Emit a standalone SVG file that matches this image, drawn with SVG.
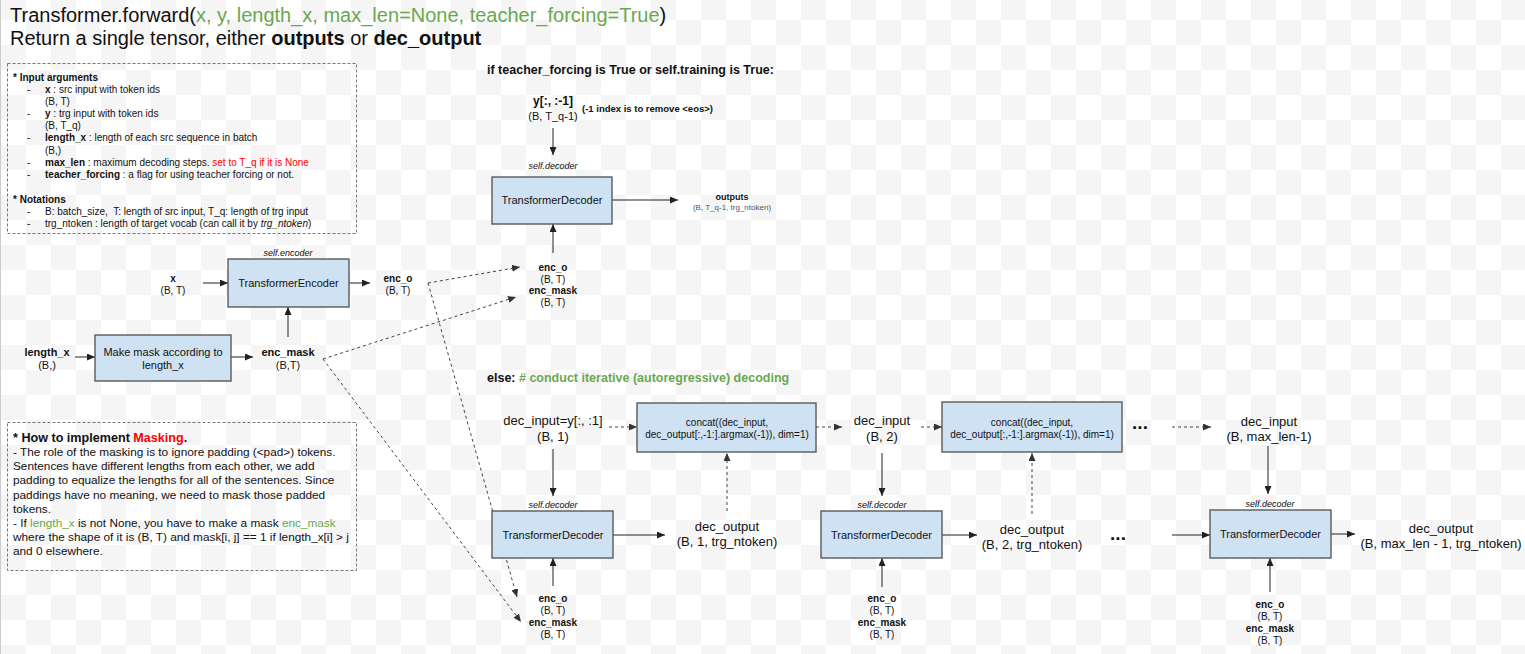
<svg xmlns="http://www.w3.org/2000/svg" width="1525" height="654" viewBox="0 0 1525 654">
<style>
text{font-family:"Liberation Sans",Arial,sans-serif;fill:#111;}
.b{font-weight:bold;}
.i{font-style:italic;}
.g{fill:#6aa84f;}
.r{fill:#ff0000;}
.node{fill:#cfe2f3;stroke:#5b5b5b;stroke-width:1.4;}
.note{fill:none;stroke:#777;stroke-width:1;stroke-dasharray:3,2;}
.ln{stroke:#222;stroke-width:1;fill:none;}
.dl{stroke:#444;stroke-width:1;fill:none;stroke-dasharray:3,3;}
.c{text-anchor:middle;}
.s9{font-size:10px;}
.s10{font-size:10px;}
.s11{font-size:11px;}
.s12{font-size:11.8px;}
.s13{font-size:13px;}
.sd{font-size:9px;font-style:italic;}
</style>
<defs>
<pattern id="chk" x="1" y="20" width="50" height="50" patternUnits="userSpaceOnUse">
<rect width="50" height="50" fill="#ffffff"/>
<rect x="25" y="0" width="25" height="25" fill="#f5f5f5"/>
<rect x="0" y="25" width="25" height="25" fill="#f5f5f5"/>
</pattern>
<marker id="ah" markerUnits="userSpaceOnUse" markerWidth="9" markerHeight="7" refX="8" refY="3.5" orient="auto">
<path d="M0,0 L8,3.5 L0,7 z" fill="#222"/>
</marker>
<marker id="ahd" markerUnits="userSpaceOnUse" markerWidth="9" markerHeight="7" refX="8" refY="3.5" orient="auto">
<path d="M0,0 L8,3.5 L0,7 z" fill="#333"/>
</marker>
</defs>
<rect width="1525" height="654" fill="url(#chk)"/>
<line x1="0.5" y1="0" x2="0.5" y2="654" stroke="#cccccc" stroke-width="1"/>

<g id="title">
<text x="10" y="22" font-size="20">Transformer.forward(<tspan class="g">x, y, length_x, max_len=None, teacher_forcing=True</tspan>)</text>
<text x="10" y="45" font-size="20">Return a single tensor, either <tspan class="b">outputs</tspan> or <tspan class="b">dec_output</tspan></text>
</g>

<g id="input-args-note">
<rect class="note" x="7.5" y="63.5" width="349" height="170"/>
<g class="s9">
<text x="13" y="80.5" class="b">* Input arguments</text>
<text x="27" y="92.5">-</text><text x="45" y="92.5"><tspan class="b">x</tspan> : src input with token ids</text>
<text x="45" y="104.5">(B, T)</text>
<text x="27" y="116.5">-</text><text x="45" y="116.5"><tspan class="b">y</tspan> : trg input with token ids</text>
<text x="45" y="129">(B, T_q)</text>
<text x="27" y="141">-</text><text x="45" y="141"><tspan class="b">length_x</tspan> : length of each src sequence in batch</text>
<text x="45" y="153.5">(B,)</text>
<text x="27" y="165.5">-</text><text x="45" y="165.5"><tspan class="b">max_len</tspan> : maximum decoding steps. <tspan class="r">set to T_q if it is None</tspan></text>
<text x="27" y="178">-</text><text x="45" y="178"><tspan class="b">teacher_forcing</tspan> : a flag for using teacher forcing or not.</text>
<text x="13" y="202.5" class="b">* Notations</text>
<text x="27" y="214.5">-</text><text x="45" y="214.5">B: batch_size,&#160; T: length of src input, T_q: length of trg input</text>
<text x="27" y="227">-</text><text x="45" y="227">trg_ntoken : length of target vocab (can call it by <tspan class="i">trg_ntoken</tspan>)</text>
</g>
</g>

<g id="masking-note">
<rect class="note" x="7.5" y="422.5" width="349" height="148"/>
<text x="13" y="441.5" class="b" font-size="12.6">* How to implement <tspan class="r">Masking</tspan>.</text>
<g class="s12">
<text x="13" y="455.5">- The role of the masking is to ignore padding (&lt;pad&gt;) tokens.</text>
<text x="13" y="469.5">Sentences have different lengths from each other, we add</text>
<text x="13" y="484">padding to equalize the lengths for all of the sentences. Since</text>
<text x="13" y="498.5">paddings have no meaning, we need to mask those padded</text>
<text x="13" y="512.5">tokens.</text>
<text x="13" y="526.5">- If <tspan class="g">length_x</tspan> is not None, you have to make a mask <tspan class="g">enc_mask</tspan></text>
<text x="13" y="540.5">where the shape of it is (B, T) and mask[i, j] == 1 if length_x[i] &gt; j</text>
<text x="13" y="554.5">and 0 elsewhere.</text>
</g>
</g>

<g id="connectors">
<line class="ln" x1="203" y1="283" x2="228" y2="283" marker-end="url(#ah)"/>
<line class="ln" x1="349" y1="283" x2="370" y2="283" marker-end="url(#ah)"/>
<line class="ln" x1="75" y1="357" x2="95" y2="357" marker-end="url(#ah)"/>
<line class="ln" x1="231" y1="357" x2="253" y2="357" marker-end="url(#ah)"/>
<line class="ln" x1="288" y1="337" x2="288" y2="307" marker-end="url(#ah)"/>
<line class="ln" x1="553" y1="128" x2="553" y2="155" marker-end="url(#ah)"/>
<line class="ln" x1="612" y1="200" x2="678" y2="200" marker-end="url(#ah)"/>
<line class="ln" x1="553" y1="253" x2="553" y2="224" marker-end="url(#ah)"/>
<line class="ln" x1="553" y1="449" x2="553" y2="496" marker-end="url(#ah)"/>
<line class="ln" x1="613" y1="535" x2="665" y2="535" marker-end="url(#ah)"/>
<line class="ln" x1="553" y1="586" x2="553" y2="558" marker-end="url(#ah)"/>
<line class="ln" x1="882" y1="453" x2="882" y2="496" marker-end="url(#ah)"/>
<line class="ln" x1="942" y1="535" x2="977" y2="535" marker-end="url(#ah)"/>
<line class="ln" x1="882" y1="587" x2="882" y2="558" marker-end="url(#ah)"/>
<line class="ln" x1="1172" y1="535" x2="1210" y2="535" marker-end="url(#ah)"/>
<line class="ln" x1="1268" y1="446" x2="1268" y2="494" marker-end="url(#ah)"/>
<line class="ln" x1="1331" y1="534" x2="1355" y2="534" marker-end="url(#ah)"/>
<line class="ln" x1="1270" y1="592" x2="1270" y2="558" marker-end="url(#ah)"/>
<line class="dl" x1="609" y1="427" x2="637" y2="427" marker-end="url(#ahd)"/>
<line class="dl" x1="816" y1="427" x2="842" y2="427" marker-end="url(#ahd)"/>
<line class="dl" x1="727" y1="511" x2="727" y2="453" marker-end="url(#ahd)"/>
<line class="dl" x1="921" y1="427" x2="942" y2="427" marker-end="url(#ahd)"/>
<line class="dl" x1="1172" y1="427" x2="1211" y2="427" marker-end="url(#ahd)"/>
<line class="dl" x1="1032" y1="514" x2="1032" y2="453" marker-end="url(#ahd)"/>
<line class="dl" x1="428" y1="283" x2="520" y2="267" marker-end="url(#ahd)"/>
<line class="dl" x1="323" y1="359" x2="516" y2="297" marker-end="url(#ahd)"/>
<line class="dl" x1="428" y1="283" x2="517" y2="597" marker-end="url(#ahd)"/>
<line class="dl" x1="323" y1="359" x2="521" y2="622" marker-end="url(#ahd)"/>
</g>

<g id="label-x">
<text x="173" y="281.5" class="b s10 c">x</text>
<text x="173" y="293.5" class="s10 c">(B, T)</text>
</g>
<g id="encoder">
<text x="288" y="256" class="sd c">self.encoder</text>
<rect class="node" x="228" y="259" width="121" height="48"/>
<text x="288.5" y="287" class="s11 c">TransformerEncoder</text>
</g>
<g id="label-enc-o">
<text x="398" y="281.5" class="b s10 c">enc_o</text>
<text x="398" y="293.5" class="s10 c">(B, T)</text>
</g>
<g id="label-length-x">
<text x="47" y="356" class="b s11 c">length_x</text>
<text x="47" y="369" class="s11 c">(B,)</text>
</g>
<g id="make-mask">
<rect class="node" x="95" y="335" width="136" height="46"/>
<text x="163" y="356" class="s11 c">Make mask according to</text>
<text x="163" y="369" class="s11 c">length_x</text>
</g>
<g id="label-enc-mask">
<text x="288" y="356" class="b s11 c">enc_mask</text>
<text x="288" y="369" class="s11 c">(B,T)</text>
</g>

<g id="tf-heading">
<text x="487" y="73.5" class="b" font-size="12.5">if teacher_forcing is True or self.training is True:</text>
</g>
<g id="label-y">
<text x="553" y="105" class="b c" font-size="12">y[:, :-1]</text>
<text x="553" y="119.5" class="s11 c">(B, T_q-1)</text>
<text x="582" y="111.5" class="b" font-size="9.5">(-1 index is to remove &lt;eos&gt;)</text>
</g>
<g id="decoder-tf">
<text x="553" y="169" class="sd c">self.decoder</text>
<rect class="node" x="492" y="177" width="120" height="47"/>
<text x="552" y="204" class="s11 c">TransformerDecoder</text>
</g>
<g id="label-outputs">
<text x="732" y="199.5" class="b c" font-size="9">outputs</text>
<text x="732" y="209.5" class="c" font-size="8" style="fill:#4d556a">(B, T_q-1, trg_ntoken)</text>
</g>
<g id="enc-tf">
<text x="553" y="270.5" class="b s10 c">enc_o</text>
<text x="553" y="282.5" class="s10 c">(B, T)</text>
<text x="553" y="293.5" class="b s10 c">enc_mask</text>
<text x="553" y="305.5" class="s10 c">(B, T)</text>
</g>

<g id="else-heading">
<text x="487" y="381.5" class="b" font-size="12.5">else: <tspan class="g"># conduct iterative (autoregressive) decoding</tspan></text>
</g>
<g id="dec-input-1">
<text x="553" y="425" class="s13 c">dec_input=y[:, :1]</text>
<text x="553" y="440.5" class="s13 c">(B, 1)</text>
</g>
<g id="concat-1">
<rect class="node" x="637" y="403" width="179" height="49"/>
<text x="727" y="425.5" class="s10 c">concat((dec_input,</text>
<text x="727" y="437.5" class="s10 c">dec_output[:,-1:].argmax(-1)), dim=1)</text>
</g>
<g id="decoder-1">
<text x="553" y="508" class="sd c">self.decoder</text>
<rect class="node" x="492" y="511" width="121" height="47"/>
<text x="553" y="539" class="s11 c">TransformerDecoder</text>
</g>
<g id="dec-output-1">
<text x="727" y="530.5" class="s13 c">dec_output</text>
<text x="727" y="545.5" class="s13 c">(B, 1, trg_ntoken)</text>
</g>
<g id="enc-1">
<text x="553" y="602" class="b s10 c">enc_o</text>
<text x="553" y="614" class="s10 c">(B, T)</text>
<text x="553" y="626" class="b s10 c">enc_mask</text>
<text x="553" y="638" class="s10 c">(B, T)</text>
</g>

<g id="dec-input-2">
<text x="882" y="424.5" class="s13 c">dec_input</text>
<text x="882" y="440.5" class="s13 c">(B, 2)</text>
</g>
<g id="concat-2">
<rect class="node" x="942" y="402" width="180" height="50"/>
<text x="1032" y="425.5" class="s10 c">concat((dec_input,</text>
<text x="1032" y="437.5" class="s10 c">dec_output[:,-1:].argmax(-1)), dim=1)</text>
</g>
<g id="ellipsis-1">
<text x="1140" y="429" class="b c" font-size="19">...</text>
</g>
<g id="decoder-2">
<text x="882" y="508" class="sd c">self.decoder</text>
<rect class="node" x="821" y="511" width="121" height="47"/>
<text x="881.5" y="539" class="s11 c">TransformerDecoder</text>
</g>
<g id="dec-output-2">
<text x="1032" y="534" class="s13 c">dec_output</text>
<text x="1032" y="549" class="s13 c">(B, 2, trg_ntoken)</text>
</g>
<g id="ellipsis-2">
<text x="1118" y="540" class="b c" font-size="19">...</text>
</g>
<g id="enc-2">
<text x="882" y="602" class="b s10 c">enc_o</text>
<text x="882" y="614" class="s10 c">(B, T)</text>
<text x="882" y="626" class="b s10 c">enc_mask</text>
<text x="882" y="638" class="s10 c">(B, T)</text>
</g>

<g id="dec-input-3">
<text x="1269" y="425.5" class="s13 c">dec_input</text>
<text x="1269" y="440.5" class="s13 c">(B, max_len-1)</text>
</g>
<g id="decoder-3">
<text x="1270" y="506.5" class="sd c">self.decoder</text>
<rect class="node" x="1210" y="510" width="121" height="48"/>
<text x="1270.5" y="538" class="s11 c">TransformerDecoder</text>
</g>
<g id="dec-output-3">
<text x="1441" y="532.5" class="s13 c">dec_output</text>
<text x="1441" y="547.5" class="s13 c">(B, max_len - 1, trg_ntoken)</text>
</g>
<g id="enc-3">
<text x="1270" y="607.5" class="b s10 c">enc_o</text>
<text x="1270" y="619.5" class="s10 c">(B, T)</text>
<text x="1270" y="631.5" class="b s10 c">enc_mask</text>
<text x="1270" y="643.5" class="s10 c">(B, T)</text>
</g>
</svg>
